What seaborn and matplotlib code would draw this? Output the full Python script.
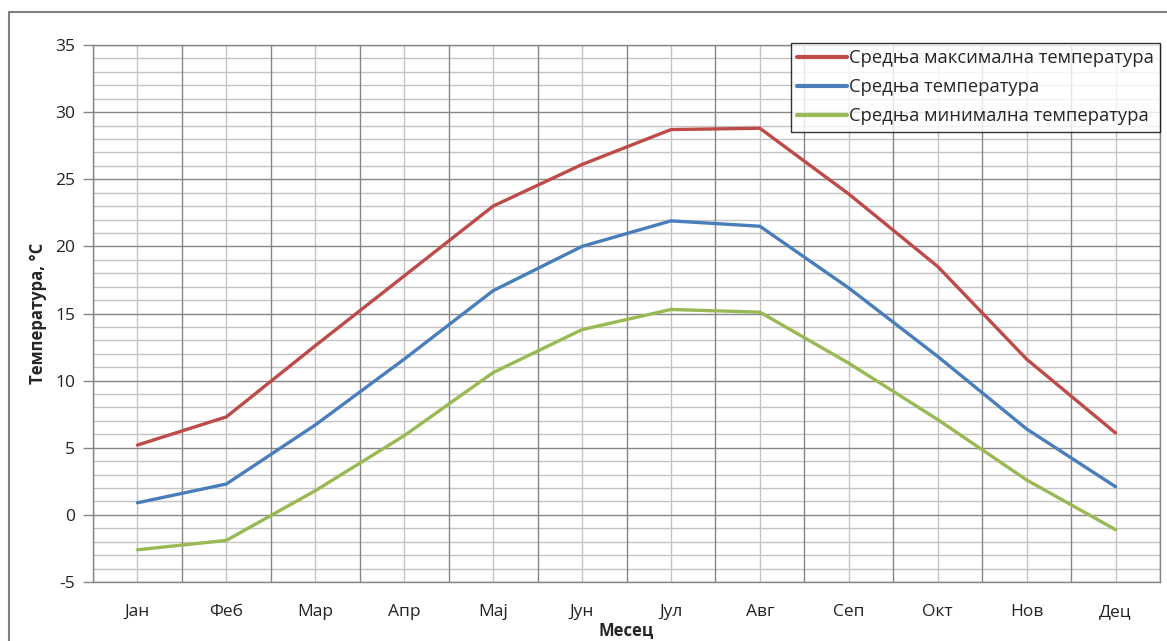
import matplotlib
matplotlib.use("Agg")
import matplotlib.pyplot as plt
import seaborn as sns
import pandas as pd
import numpy as np
from matplotlib.lines import Line2D

months = ["Јан", "Феб", "Мар", "Апр", "Мај", "Јун", "Јул", "Авг", "Сеп", "Окт", "Нов", "Дец"]
t_max = [5.2, 7.3, 12.6, 17.8, 23.0, 26.1, 28.7, 28.8, 23.9, 18.5, 11.6, 6.1]
t_mean = [0.9, 2.3, 6.7, 11.6, 16.7, 20.0, 21.9, 21.5, 16.9, 11.8, 6.4, 2.1]
t_min = [-2.6, -1.9, 1.8, 5.9, 10.6, 13.8, 15.3, 15.1, 11.3, 7.1, 2.6, -1.1]
series_names = ["Средња максимална температура", "Средња температура", "Средња минимална температура"]
colors = ["#BE4B48", "#4A7EBB", "#98B954"]

sns.set_theme(style="white")
plt.rcParams['font.family'] = ['Open Sans', 'Noto Sans', 'DejaVu Sans']

rows = []
for name, vals in zip(series_names, [t_max, t_mean, t_min]):
    for i, v in enumerate(vals):
        rows.append({"idx": i, "val": v, "series": name})
df = pd.DataFrame(rows)

fig = plt.figure(figsize=(11.67, 6.41), dpi=100)
W, H = 1167, 641
ax = fig.add_axes([93 / W, (H - 582) / H, (1160 - 93) / W, (582 - 45) / H])

sns.lineplot(data=df, x="idx", y="val", hue="series", hue_order=series_names,
             palette=colors, linewidth=2.4, ax=ax, legend=True, zorder=5)

ax.set_xlim(-0.5, 11.5)
ax.set_ylim(-5, 35)

# grid lines
for y in range(-5, 36):
    if y % 5 == 0:
        ax.axhline(y, color="#868686", lw=1.0, zorder=1)
    else:
        ax.axhline(y, color="#c4c4c4", lw=1.0, zorder=0.5)
for i in range(12):
    ax.axvline(i, color="#c4c4c4", lw=1.0, zorder=0.5)
for i in range(13):
    ax.axvline(i - 0.5, color="#868686", lw=1.0, zorder=1)

ax.set_yticks(range(-5, 36, 5))
ax.set_yticklabels([str(v) for v in range(-5, 36, 5)], fontsize=12.5, color="#222222")
ax.set_xticks(range(12))
ax.set_xticklabels(months, fontsize=12.5, color="#222222")
ax.tick_params(axis="y", length=7, width=1, color="#868686", pad=6, left=True)
ax.tick_params(axis="x", length=0, pad=16)

for sp in ax.spines.values():
    sp.set_color("#868686")
    sp.set_linewidth(1.0)

ax.set_xlabel("Месец", fontsize=12, fontweight="bold", labelpad=1)
ax.set_ylabel("Температура, °C", fontsize=12, fontweight="bold", labelpad=6)

leg = ax.legend(loc="upper right", bbox_to_anchor=(1.0, 1.004), frameon=True, fancybox=False,
                fontsize=13.2, handlelength=2.7, handletextpad=0.1, borderpad=0.35,
                labelspacing=0.6, borderaxespad=0.0)
leg.get_frame().set_edgecolor("black")
leg.get_frame().set_linewidth(1.0)
leg.set_zorder(10)
for line in leg.get_lines():
    line.set_linewidth(3)

# outer chart border (cropped)
fig.add_artist(Line2D([9 / W, 9 / W], [0, (H - 12) / H], color="#7f7f7f", lw=1.5))
fig.add_artist(Line2D([9 / W, 1], [(H - 12) / H, (H - 12) / H], color="#7f7f7f", lw=1.5))

fig.savefig("out.png", dpi=100)
